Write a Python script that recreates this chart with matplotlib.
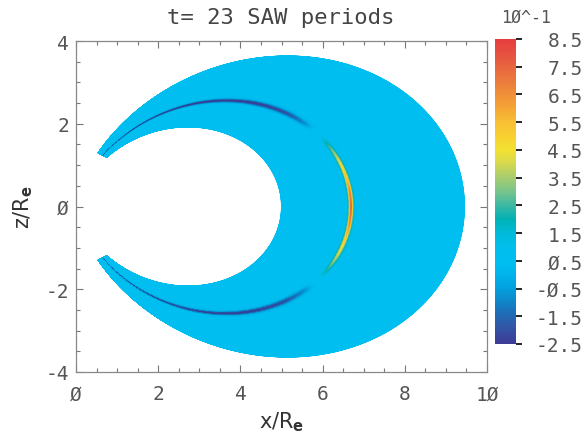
import numpy as np
import matplotlib
matplotlib.use("Agg")
import matplotlib.pyplot as plt
from matplotlib.colors import LinearSegmentedColormap, Normalize
from matplotlib.ticker import MultipleLocator, FuncFormatter

# dipole field-line geometry, in R_e
L_inner = 5.0
L_outer = 9.45
r_cut = 1.4
L_wave = 6.7

background = 0.5            # units of 10^-1

# value and cross-field width (in L) on the L_wave line vs |latitude| (deg)
wave_lat = [0, 3, 6, 10, 14, 16, 18, 20, 24, 30, 40, 50, 60, 64]
wave_val = [7.5, 6.9, 5.5, 4.3, 2.3, 0.8, 0.5, -0.8, -2.0, -2.4, -2.4, -2.2, -2.0, -1.8]
wave_wid = [0.04, 0.04, 0.042, 0.045, 0.05, 0.055, 0.06, 0.065, 0.07, 0.075, 0.08, 0.08, 0.08, 0.08]

# colour bar
cbar_ticks = [8.5, 7.5, 6.5, 5.5, 4.5, 3.5, 2.5, 1.5, 0.5, -0.5, -1.5, -2.5]
cmap_vals = [-2.5, -2.0, -1.5, -1.0, -0.5, 0.0, 0.5, 1.0, 1.5, 2.0, 2.5, 3.0,
             3.5, 4.0, 4.5, 5.0, 5.5, 6.0, 6.5, 7.0, 7.5, 8.0, 8.5]
cmap_cols = ["#3d3b95", "#3451a3", "#2368b2", "#0f85c8", "#04a0de", "#00b4ec",
             "#00bff0", "#00bfec", "#00bad8", "#00b2b4", "#3cb8a4", "#78c48c",
             "#a8cc70", "#d4d850", "#f2e232", "#f8d030", "#f8c034", "#f4a636",
             "#f09038", "#ec7a3c", "#e86640", "#e65040", "#e63e3e"]

vmin, vmax = cmap_vals[0], cmap_vals[-1]
cmap = LinearSegmentedColormap.from_list(
    "saw", [((v - vmin) / (vmax - vmin), c) for v, c in zip(cmap_vals, cmap_cols)])
norm = Normalize(vmin, vmax)

# grid in (L, latitude) -> (x, z)
L = np.linspace(L_inner, L_outer, 600)
s = np.linspace(-1, 1, 700)
LL, SS = np.meshgrid(L, s)
lam_max = np.arccos(np.sqrt(r_cut / LL))
lam = SS * lam_max
x = LL * np.cos(lam) ** 3
z = LL * np.cos(lam) ** 2 * np.sin(lam)

lat = np.degrees(np.abs(lam))
peak = np.interp(lat, wave_lat, wave_val)
wid = np.interp(lat, wave_lat, wave_wid)
field = background + (peak - background) * np.exp(-0.5 * ((LL - L_wave) / wid) ** 2)

W, H = 585, 435
fig = plt.figure(figsize=(W / 100, H / 100), dpi=100)
ax = fig.add_axes([76 / W, 1 - 373 / H, 411 / W, 331 / H])

mesh = ax.pcolormesh(x, z, field, cmap=cmap, norm=norm, shading="gouraud")

ax.set_xlim(0, 10)
ax.set_ylim(-4, 4)

tick_font = dict(family="DejaVu Sans Mono", size=14, color="#555555")
zero_fmt = FuncFormatter(lambda v, p: f"{v:g}".replace("0", "\u00d8"))
ax.xaxis.set_major_locator(MultipleLocator(2))
ax.xaxis.set_minor_locator(MultipleLocator(0.5))
ax.yaxis.set_major_locator(MultipleLocator(2))
ax.yaxis.set_minor_locator(MultipleLocator(0.5))
ax.xaxis.set_major_formatter(zero_fmt)
ax.yaxis.set_major_formatter(zero_fmt)
ax.tick_params(which="both", direction="in", top=True, right=True,
               color="#777777", width=0.8)
ax.tick_params(which="major", length=5, pad=5)
ax.tick_params(axis="x", which="major", pad=9)
ax.tick_params(which="minor", length=3)
for lab in ax.get_xticklabels() + ax.get_yticklabels():
    lab.set_fontfamily(tick_font["family"])
    lab.set_fontsize(tick_font["size"])
    lab.set_color(tick_font["color"])
for sp in ax.spines.values():
    sp.set_color("#888888")
    sp.set_linewidth(0.9)

ax.set_xlabel(r"x/R$_\mathbf{e}$", fontsize=15, color="#333333")
ax.set_ylabel(r"z/R$_\mathbf{e}$", fontsize=15, color="#333333")
ax.xaxis.set_label_coords(0.5, -0.112)
ax.yaxis.set_label_coords(-0.1, 0.5)

fig.text(281 / W, 1 - 18 / H, "t= 23 SAW periods", ha="center", va="center",
         family="DejaVu Sans Mono", fontsize=16, color="#444444")

# colour bar
cax = fig.add_axes([495 / W, 1 - 345 / H, 21 / W, 305 / H])
cb = fig.colorbar(mesh, cax=cax, ticks=cbar_ticks)
cb.outline.set_visible(False)
cb.ax.yaxis.set_major_formatter(FuncFormatter(lambda v, p: f"{v:.1f}".replace("0", "\u00d8")))
cax.tick_params(length=4, width=1.2, pad=44)
for tk, v in zip(cax.yaxis.get_major_ticks(), cb.get_ticks()):
    tk.tick2line.set_color(cmap(norm(v)))
for lab in cax.get_yticklabels():
    lab.set_ha("right")
    lab.set_fontfamily(tick_font["family"])
    lab.set_fontsize(tick_font["size"])
    lab.set_color(tick_font["color"])
fig.text(526 / W, 1 - 18 / H, "1\u00d8^-1", ha="center", va="center",
         family="DejaVu Sans Mono", fontsize=12, color="#555555")

fig.savefig("out.png", dpi=100)
